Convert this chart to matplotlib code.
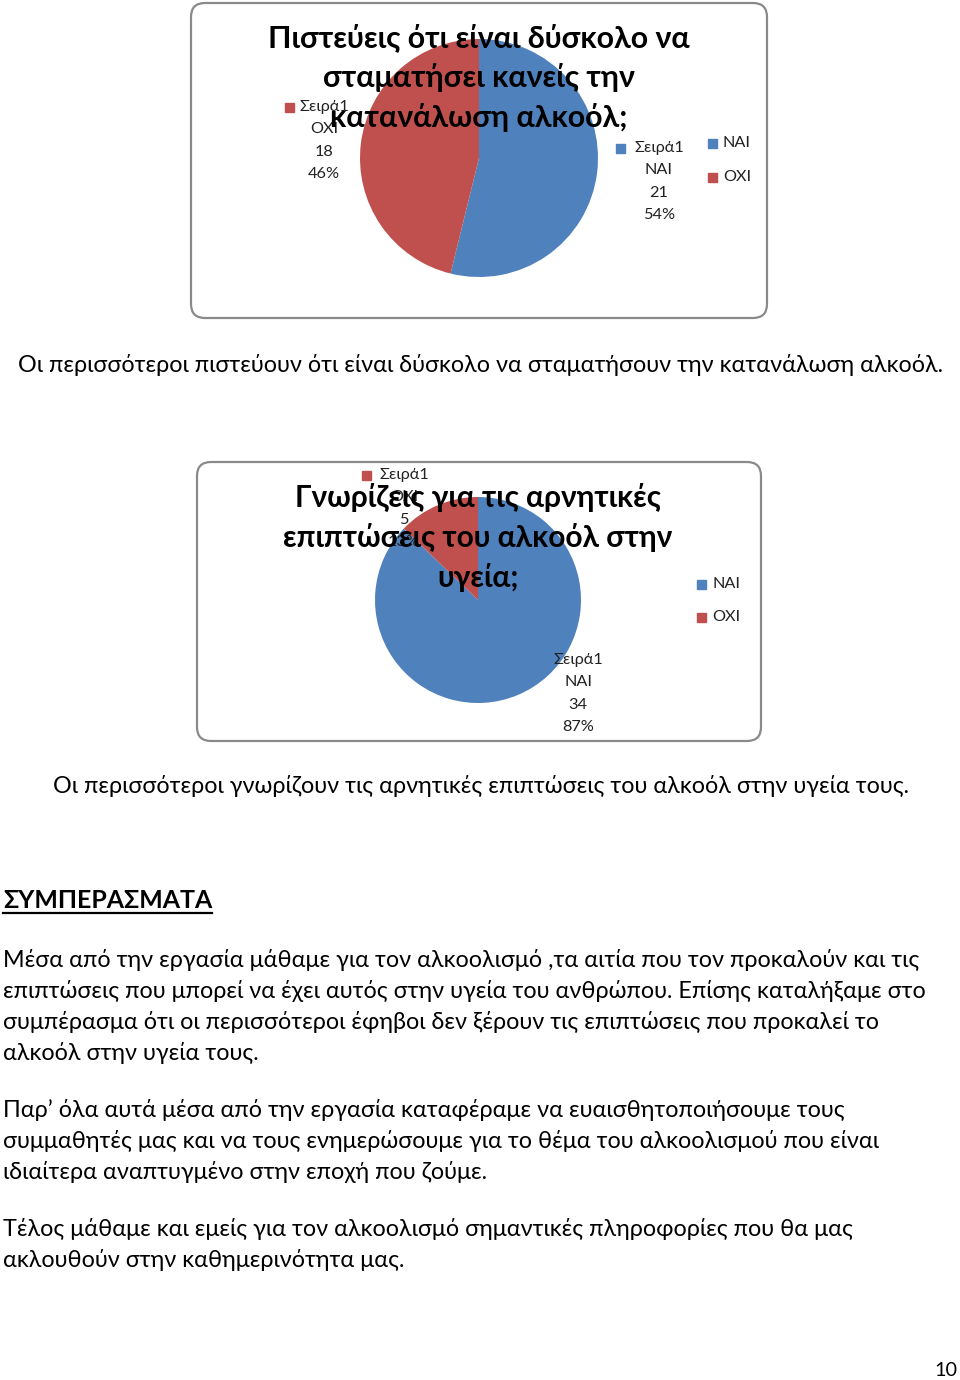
import matplotlib
matplotlib.use('Agg')
import matplotlib.pyplot as plt
from matplotlib.patches import FancyBboxPatch, Rectangle

plt.rcParams['font.family'] = ['Lato', 'DejaVu Sans']

# data
categories = ['ΝΑΙ', 'ΟΧΙ']
series_name = 'Σειρά1'
q1_values = [21, 18]
q2_values = [34, 5]
q1_title = ['Πιστεύεις ότι είναι δύσκολο να', 'σταματήσει κανείς την', 'κατανάλωση αλκοόλ;']
q2_title = ['Γνωρίζεις για τις αρνητικές', 'επιπτώσεις του αλκοόλ στην', 'υγεία;']
q1_caption = 'Οι περισσότεροι πιστεύουν ότι είναι δύσκολο να σταματήσουν την κατανάλωση αλκοόλ.'
q2_caption = 'Οι περισσότεροι γνωρίζουν τις αρνητικές επιπτώσεις του αλκοόλ στην υγεία τους.'
heading = 'ΣΥΜΠΕΡΑΣΜΑΤΑ'
paragraphs = [
    ['Μέσα από την εργασία μάθαμε για τον αλκοολισμό ,τα αιτία που τον προκαλούν και τις',
     'επιπτώσεις που μπορεί να έχει αυτός στην υγεία του ανθρώπου. Επίσης καταλήξαμε στο',
     'συμπέρασμα ότι οι περισσότεροι έφηβοι δεν ξέρουν τις επιπτώσεις που προκαλεί το',
     'αλκοόλ στην υγεία τους.'],
    ['Παρ’ όλα αυτά μέσα από την εργασία καταφέραμε να ευαισθητοποιήσουμε τους',
     'συμμαθητές μας και να τους ενημερώσουμε για το θέμα του αλκοολισμού που είναι',
     'ιδιαίτερα αναπτυγμένο στην εποχή που ζούμε.'],
    ['Τέλος μάθαμε και εμείς για τον αλκοολισμό σημαντικές πληροφορίες που θα μας',
     'ακλουθούν στην καθημερινότητα μας.'],
]
page_number = '10'

colors = ['#4F81BD', '#C0504D']

fig = plt.figure(figsize=(9.6, 13.8), dpi=100)
bg = fig.add_axes([0, 0, 1, 1])
bg.set_xlim(0, 960)
bg.set_ylim(1380, 0)
bg.axis('off')
renderer = fig.canvas.get_renderer()


def fit_size(s, width, **kw):
    t = fig.text(0, 0, s, fontsize=10, **kw)
    w = t.get_window_extent(renderer).width
    t.remove()
    return 10 * width / w


def put(x, y, s, size, **kw):
    fig.text(x, y, s, fontsize=size, transform=bg.transData, va='center',
             zorder=kw.pop('zorder', 5), **kw)


def chart(box, center, r, values, title, title_y, title_w, title_ref,
          label_pos, square_pos, legend_x, legend_y):
    x0, y0, x1, y1 = box
    bg.add_patch(FancyBboxPatch((x0, y0), x1 - x0, y1 - y0,
                                boxstyle='round,pad=0,rounding_size=14',
                                fc='white', ec='#8a8a8a', lw=1.6))
    cx, cy = center
    ax = fig.add_axes([(cx - r) / 960, 1 - (cy + r) / 1380, 2 * r / 960, 2 * r / 1380])
    ax.pie(values, colors=colors, startangle=90, counterclock=False,
           wedgeprops=dict(linewidth=0))
    ax.set_xlim(-1, 1)
    ax.set_ylim(-1, 1)
    ax.axis('off')

    # data labels
    lsize = fit_size(series_name, 50)
    total = sum(values)
    for i, v in enumerate(values):
        lx, ly = label_pos[i]
        lines = [series_name, categories[i], str(v), '%d%%' % round(100 * v / total)]
        for k, s in enumerate(lines):
            put(lx, ly + k * 22.3, s, lsize, ha='center', color='#222222')
        sx, sy = square_pos[i]
        bg.add_patch(Rectangle((sx - 4.5, sy - 4.5), 9, 9, color=colors[i], zorder=1))

    # legend
    for i, c in enumerate(categories):
        bg.add_patch(Rectangle((legend_x - 15, legend_y[i] - 4.5), 9, 9, color=colors[i]))
        put(legend_x, legend_y[i], c, lsize, ha='left', color='#222222')

    # title
    tsize = fit_size(title[title_ref], title_w, fontweight='bold')
    for k, s in enumerate(title):
        put(cx, title_y + k * 40, s, tsize, ha='center', fontweight='bold', color='black', zorder=6)


chart((191, 3, 767, 318), (479, 158), 119, q1_values, q1_title, 38, 422, 0,
      [(659, 148), (324, 107)], [(620, 148), (289, 107)], 723, [143, 177])
chart((197, 462, 761, 741), (478, 600), 103, q2_values, q2_title, 497, 389, 1,
      [(578, 660), (404, 475)], [(540, 660), (366, 475)], 712, [584, 617])

body = fit_size(paragraphs[0][0], 917)
put(18, 365, q1_caption, body, ha='left', color='black')
put(53, 786, q2_caption, body, ha='left', color='black')

hsize = fit_size(heading, 209, fontweight='bold')
put(3, 901, heading, hsize, ha='left', fontweight='bold', color='black')
bg.plot([3, 212], [913, 913], color='black', lw=1.6)

starts = [960, 1110, 1229]
for p, y in zip(paragraphs, starts):
    for k, s in enumerate(p):
        put(3, y + k * 31, s, body, ha='left', color='black')

put(957, 1370, page_number, body * 0.85, ha='right', color='black')

fig.savefig('out.png', dpi=100)
